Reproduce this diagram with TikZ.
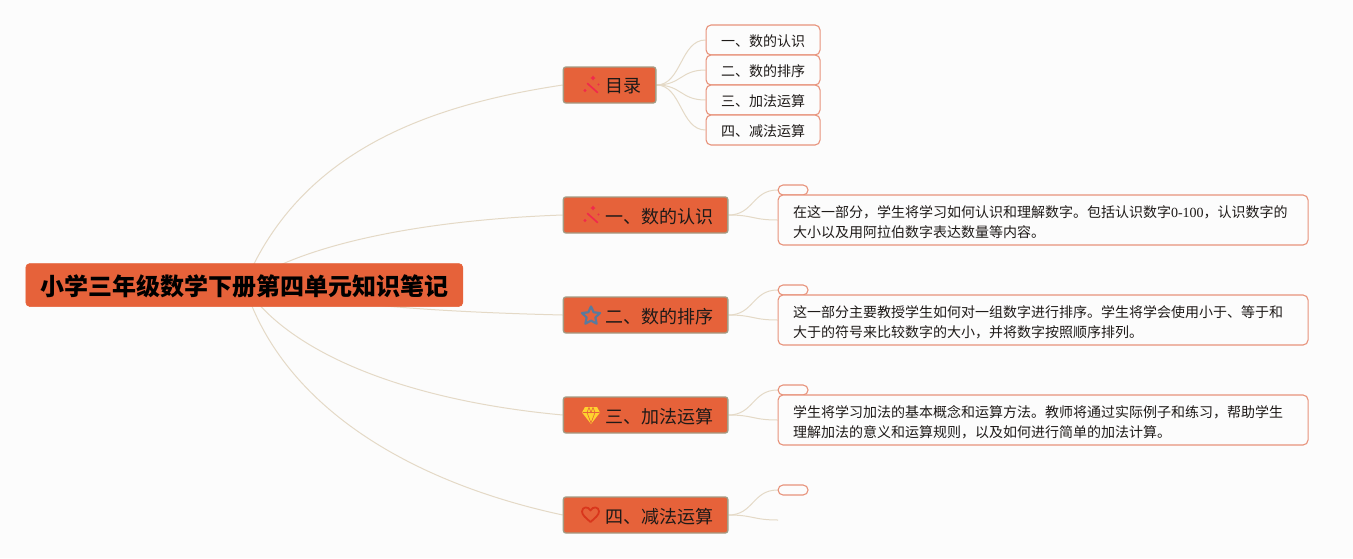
\documentclass[tikz,border=0pt]{standalone}
\usepackage{fontspec}
\setmainfont{Noto Sans CJK SC}
\newfontfamily\digitfont{Liberation Serif}
\usetikzlibrary{backgrounds}
\definecolor{pagebg}{HTML}{FCFCFC}
\definecolor{orangefill}{HTML}{E6623A}
\definecolor{topicline}{HTML}{A39C84}
\definecolor{boxline}{HTML}{E8937B}
\definecolor{edgeline}{HTML}{E4D9C6}
\definecolor{inktext}{HTML}{1E1A18}
\definecolor{wandred}{HTML}{F02A4C}
\definecolor{starblue}{HTML}{5A7A9C}
\definecolor{gemyellow}{HTML}{FFD22E}
\definecolor{heartred}{HTML}{D9361C}
\tikzset{
  rootbox/.style={fill=orangefill,draw=orangefill,line width=0.5pt,rounded corners=4pt,inner sep=0pt,
    minimum width=437pt,minimum height=43pt,text=black,font=\fontsize{24}{28}\selectfont\bfseries},
  topic/.style={anchor=west,fill=orangefill,draw=topicline,line width=1.3pt,rounded corners=2.5pt,
    inner xsep=14.5pt,inner ysep=0pt,minimum height=36pt,text=inktext,font=\fontsize{18}{22}\selectfont},
  subbox/.style={anchor=west,fill=pagebg,draw=boxline,line width=1.1pt,rounded corners=5pt,inner sep=0pt,
    minimum width=114pt,minimum height=30pt,text=inktext,font=\fontsize{14}{18}\selectfont},
  parabox/.style={anchor=west,fill=pagebg,draw=boxline,line width=1.1pt,rounded corners=5pt,
    inner xsep=15pt,inner ysep=0pt,minimum width=530pt,minimum height=50pt,text=inktext,
    font=\fontsize{14}{20}\selectfont},
  tagbox/.style={anchor=west,fill=pagebg,draw=boxline,line width=1.1pt,rounded corners=5pt,inner sep=0pt,
    minimum width=30pt,minimum height=10pt},
  link/.style={draw=edgeline,line width=1pt},
  wand/.style={draw=wandred,line width=1.7pt,line cap=round},
  spark/.style={fill=wandred,draw=none}
}
\newcommand{\dropped}[2][1.6pt]{\raisebox{-#1}[\height][\depth]{#2}}
\newcommand{\iconpad}[1]{\dropped{\hbox{\kern27.5pt #1}}}
\newcommand{\paratext}[1]{\dropped[2pt]{\parbox{500pt}{#1}}}
\newcommand{\wandicon}[1]{%
  \begin{scope}[yshift=#1]
    \draw[wand] (587.5,83.5) -- (597.5,92.5);
    \fill[spark] (593,75.5) -- (594,77) -- (595.5,78) -- (594,79) -- (593,80.5) -- (592,79) -- (590.5,78) -- (592,77) -- cycle;
    \fill[spark] (598.5,84.5) circle (1.1pt);
    \fill[spark] (585,90.5) circle (1.7pt);
  \end{scope}}
\begin{document}
\begin{tikzpicture}[x=1pt,y=-1pt]
\useasboundingbox (0,0) rectangle (1353,558);
\node[rootbox] (root) at (244.3,285) {\dropped[1pt]{小学三年级数学下册第四单元知识笔记}};
\node[topic] (toc) at (562.7,85) {\iconpad{目录}};
\node[topic] (t1) at (562.7,215) {\iconpad{一、数的认识}};
\node[topic] (t2) at (562.7,315) {\iconpad{二、数的排序}};
\node[topic] (t3) at (562.7,415) {\iconpad{三、加法运算}};
\node[topic] (t4) at (562.7,515) {\iconpad{四、减法运算}};
\node[subbox] (s1) at (705.5,40) {\dropped{一、数的认识}};
\node[subbox] (s2) at (705.5,70) {\dropped{二、数的排序}};
\node[subbox] (s3) at (705.5,100) {\dropped{三、加法运算}};
\node[subbox] (s4) at (705.5,130) {\dropped{四、减法运算}};
\node[tagbox] (g1) at (777.5,190) {};
\node[tagbox] (g2) at (777.5,290) {};
\node[tagbox] (g3) at (777.5,390) {};
\node[tagbox] (g4) at (777.5,490) {};
\node[parabox] (p1) at (777.5,220) {\paratext{在这一部分，学生将学习如何认识和理解数字。包括认识数字{\digitfont 0-100}，认识数字的\\大小以及用阿拉伯数字表达数量等内容。}};
\node[parabox] (p2) at (777.5,320) {\paratext{这一部分主要教授学生如何对一组数字进行排序。学生将学会使用小于、等于和\\大于的符号来比较数字的大小，并将数字按照顺序排列。}};
\node[parabox] (p3) at (777.5,420) {\paratext{学生将学习加法的基本概念和运算方法。教师将通过实际例子和练习，帮助学生\\理解加法的意义和运算规则，以及如何进行简单的加法计算。}};
\coordinate (e4) at (778,520);
\begin{scope}[on background layer]
  \fill[pagebg] (0,0) rectangle (1353,558);
  \draw[link] (root.center) .. controls (300,150) and (430,105) .. (toc.west);
  \draw[link] (root.center) .. controls (300,245) and (420,220) .. (t1.west);
  \draw[link] (root.center) .. controls (330,305) and (440,312) .. (t2.west);
  \draw[link] (root.center) .. controls (285,350) and (400,400) .. (t3.west);
  \draw[link] (root.center) .. controls (280,400) and (400,480) .. (t4.west);
  \foreach \s in {s1,s2,s3,s4}
    \draw[link] (toc.east) .. controls +(25,0) and +(-25,0) .. (\s.west);
  \draw[link] (t1.east) .. controls +(25,0) and +(-25,0) .. (g1.west);
  \draw[link] (t1.east) .. controls +(25,0) and +(-25,0) .. (p1.west);
  \draw[link] (t2.east) .. controls +(25,0) and +(-25,0) .. (g2.west);
  \draw[link] (t2.east) .. controls +(25,0) and +(-25,0) .. (p2.west);
  \draw[link] (t3.east) .. controls +(25,0) and +(-25,0) .. (g3.west);
  \draw[link] (t3.east) .. controls +(25,0) and +(-25,0) .. (p3.west);
  \draw[link] (t4.east) .. controls +(25,0) and +(-25,0) .. (g4.west);
  \draw[link] (t4.east) .. controls +(25,0) and +(-25,0) .. (e4);
\end{scope}
% icons
\wandicon{0pt}
\wandicon{-130pt}
\draw[starblue,line width=2.2pt,line join=round,shift={(591,316)}]
  (-90:9.5) -- (-54:4.6) -- (-18:9.5) -- (18:4.6) -- (54:9.5) -- (90:4.6) -- (126:9.5) -- (162:4.6) -- (198:9.5) -- (234:4.6) -- cycle;
\fill[gemyellow] (585,407) -- (597,407) -- (600,412.5) -- (591,424) -- (582,412.5) -- cycle;
\draw[orangefill,line width=0.6pt] (582.5,412.5) -- (599.5,412.5) (587,412.5) -- (591,423) -- (595,412.5) (587,412.5) -- (589,407.5) -- (591,412.5) -- (593,407.5) -- (595,412.5);
\draw[heartred,line width=1.8pt,line join=round]
  (590.5,522) .. controls (586,518) and (582,515) .. (582,511.5)
  .. controls (582,506.5) and (588.5,506) .. (590.5,510.5)
  .. controls (592.5,506) and (599,506.5) .. (599,511.5)
  .. controls (599,515) and (595,518) .. (590.5,522) -- cycle;
\end{tikzpicture}
\end{document}
